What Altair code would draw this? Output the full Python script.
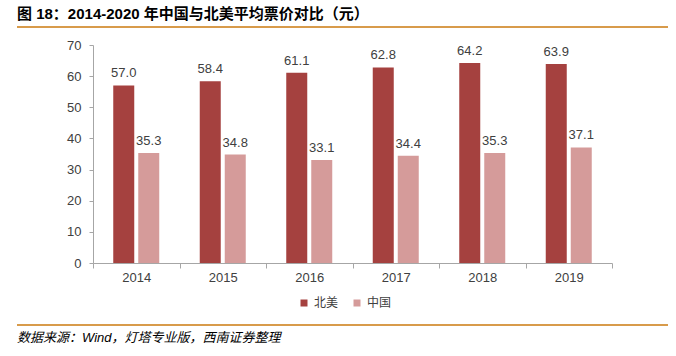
import altair as alt
import pandas as pd

years = ["2014", "2015", "2016", "2017", "2018", "2019"]
series_names = ["北美", "中国"]
north_america = [57.0, 58.4, 61.1, 62.8, 64.2, 63.9]
china = [35.3, 34.8, 33.1, 34.4, 35.3, 37.1]
y_ticks = [0, 10, 20, 30, 40, 50, 60, 70]
title_text = "图 18：2014-2020 年中国与北美平均票价对比（元）"
source_text = "数据来源：Wind，灯塔专业版，西南证券整理"

rows = []
for y, a, b in zip(years, north_america, china):
    rows.append({"year": y, "region": "北美", "value": a})
    rows.append({"year": y, "region": "中国", "value": b})
df = pd.DataFrame(rows)

RED = "#A5413F"
PINK = "#D59B9A"
ORANGE = "#D89B4B"
NUM_FONT = "Liberation Sans"
CJK_FONT = "Noto Sans CJK SC"
MIX_FONT = "Liberation Sans, Noto Sans CJK SC"

x_enc = alt.X(
    "year:N",
    sort=years,
    scale=alt.Scale(paddingInner=0, paddingOuter=0),
    axis=alt.Axis(
        title=None, labelAngle=0, tickBand="extent", tickSize=5,
        labelPadding=3, labelFont=NUM_FONT, labelFontSize=13,
        labelColor="#404040", domainColor="#A6A6A6", tickColor="#A6A6A6",
        grid=False,
    ),
)
xoff_enc = alt.XOffset(
    "region:N", sort=series_names,
    scale=alt.Scale(paddingInner=0.16, paddingOuter=0.81),
)
y_enc = alt.Y(
    "value:Q",
    scale=alt.Scale(domain=[0, 70], nice=False),
    axis=alt.Axis(
        title=None, values=y_ticks, tickSize=4, labelOverlap=False,
        labelPadding=8, labelFont=NUM_FONT, labelFontSize=13,
        labelColor="#404040", domainColor="#A6A6A6", tickColor="#A6A6A6",
        grid=False,
    ),
)

base = alt.Chart(df)

bars = base.mark_bar().encode(
    x=x_enc,
    xOffset=xoff_enc,
    y=y_enc,
    color=alt.Color(
        "region:N",
        sort=series_names,
        scale=alt.Scale(domain=series_names, range=[RED, PINK]),
        legend=alt.Legend(
            title=None, orient="none", legendX=205, legendY=252,
            direction="horizontal", symbolType="square", symbolSize=49,
            symbolStrokeWidth=0, labelFont=CJK_FONT, labelFontSize=12,
            labelColor="#404040", columnPadding=12, labelOffset=4,
        ),
    ),
)

labels = base.mark_text(
    baseline="alphabetic", dy=-8, font=NUM_FONT, fontSize=13, color="#404040"
).encode(
    x=x_enc,
    xOffset=xoff_enc,
    y=y_enc,
    text=alt.Text("value:Q", format=".1f"),
)

title = alt.Chart(alt.Data(values=[{"t": title_text}])).mark_text(
    align="left", baseline="middle", font=MIX_FONT, fontSize=15,
    fontWeight="bold", color="#000000",
).encode(x=alt.value(-76), y=alt.value(-31), text="t:N")

source = alt.Chart(alt.Data(values=[{"t": source_text}])).mark_text(
    align="left", baseline="middle", font=MIX_FONT, fontSize=13,
    fontStyle="italic", color="#000000",
).encode(x=alt.value(-76), y=alt.value(293), text="t:N")

top_line = alt.Chart(alt.Data(values=[{}])).mark_rule(
    color=ORANGE, strokeWidth=2
).encode(x=alt.value(-76), x2=alt.value(575), y=alt.value(-18))

bottom_line = alt.Chart(alt.Data(values=[{}])).mark_rule(
    color=ORANGE, strokeWidth=2
).encode(x=alt.value(-76), x2=alt.value(575), y=alt.value(280))

chart = alt.layer(bars, labels, title, source, top_line, bottom_line).properties(
    width=519,
    height=218,
    padding={"left": 93, "top": 45, "right": 64, "bottom": 93},
    autosize=alt.AutoSizeParams(type="none"),
    background="white",
).configure_view(stroke=None)

chart.save("out.html", embed_options={"renderer": "svg", "actions": False})
